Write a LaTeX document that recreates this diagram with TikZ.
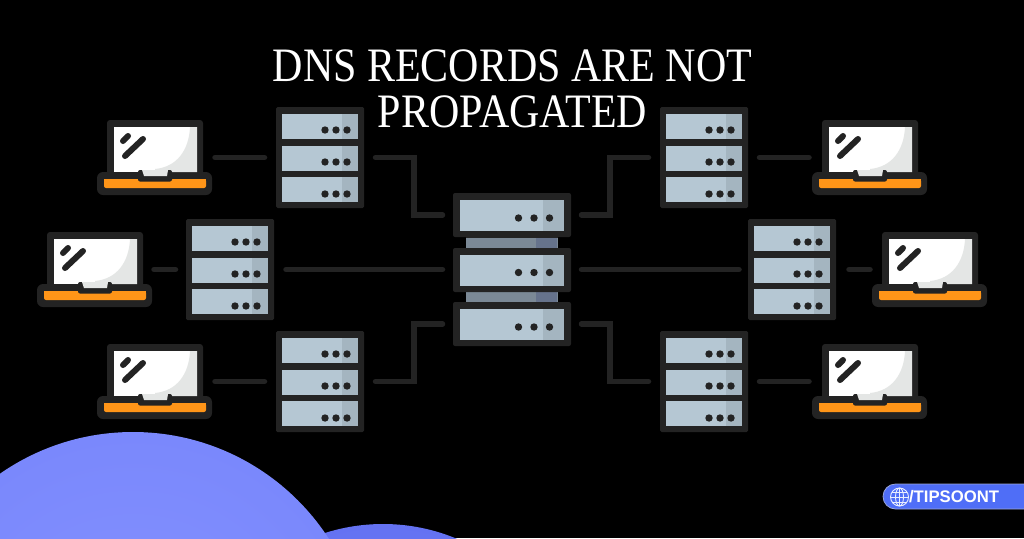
\documentclass[tikz,border=0pt]{standalone}
\usepackage{fontspec}
\setmainfont{Liberation Serif}
\newfontfamily\titlefont[FakeStretch=0.875]{Liberation Serif}
\newfontfamily\badgefont{Liberation Sans}
\definecolor{ink}{HTML}{232323}
\definecolor{panel}{HTML}{B5C7D3}
\definecolor{panelshade}{HTML}{A4B5C0}
\definecolor{barfill}{HTML}{7B8996}
\definecolor{barshade}{HTML}{66738C}
\definecolor{screengrey}{HTML}{E4E6E5}
\definecolor{orangebar}{HTML}{FF9518}
\definecolor{cloudin}{HTML}{8592FF}
\definecolor{cloudout}{HTML}{7A88FC}
\definecolor{cloudtwo}{HTML}{6472F2}
\definecolor{badgeblue}{HTML}{4F6EF7}
\definecolor{badgeedge}{HTML}{9AA6D8}
\tikzset{
  anchorbox/.style={inner sep=0pt,outer sep=0pt,draw=none,fill=none},
  wire/.style={draw=ink,line width=5.5pt,line cap=round,line join=miter},
  dot/.style={fill=ink,draw=none},
}
% one panel: x0,y0,x1,y1, shade start x
\newcommand{\srvpanel}[5]{%
  \fill[panel] (#1,#2) rectangle (#3,#4);
  \fill[panelshade] (#5,#2) rectangle (#3,#4);
}
\newcommand{\srvdots}[4]{%
  \fill[dot] (#1,#4) circle (3.7);
  \fill[dot] (#2,#4) circle (3.7);
  \fill[dot] (#3,#4) circle (3.7);
}
% server rack: name, left x, top y (88 x 101)
\newcommand{\rackserver}[3]{%
  \begin{scope}[shift={(#2,#3)}]
    \fill[ink,rounded corners=1.5pt] (0,0) rectangle (88,101);
    \srvpanel{6}{7}{82}{32}{66}
    \srvpanel{6}{38.5}{82}{63.5}{66}
    \srvpanel{6}{70}{82}{95}{66}
    \srvdots{49}{60}{71}{23}
    \srvdots{49}{60}{71}{55}
    \srvdots{49}{60}{71}{87}
    \node[anchorbox,minimum width=88pt,minimum height=101pt] (#1) at (44,50.5) {};
  \end{scope}
}
% laptop: name, left x, top y (115 x 75)
\newcommand{\laptopbox}[3]{%
  \begin{scope}[shift={(#2,#3)}]
    \fill[ink,rounded corners=3pt] (10,0) rectangle (106,60);
    \fill[ink,rounded corners=6pt] (0,52) rectangle (115,75);
    \fill[white] (17,7) rectangle (100,52);
    \fill[screengrey] (93,7) .. controls (92,30) and (80,47) .. (58,49) -- (58,52) -- (100,52) -- (100,7) -- cycle;
    \fill[orangebar,rounded corners=2pt] (7,59) -- (109,59) -- (109,68) -- (7,68) -- cycle;
    \fill[orangebar] (7,59) rectangle (109,63);
    \fill[ink,rounded corners=2pt] (41,50) rectangle (75,61.5);
    \fill[screengrey] (45,50) -- (71,50) -- (70,56) -- (47,56) -- cycle;
    \draw[ink,line width=6pt,line cap=round] (26,21) -- (31,16);
    \draw[ink,line width=6pt,line cap=round] (28,36) -- (46,19);
    \node[anchorbox,minimum width=115pt,minimum height=75pt] (#1) at (57.5,37.5) {};
  \end{scope}
}
\begin{document}
\begin{tikzpicture}[x=1pt,y=-1pt]
\useasboundingbox (0,0) rectangle (1024,538);
\fill[black] (0,0) rectangle (1024,538);
% clouds
\begin{scope}
  \clip (0,0) rectangle (1024,538);
  \shade[inner color=cloudtwo!85!white,outer color=cloudtwo] (383,715) circle (191);
  \shade[inner color=cloudin,outer color=cloudout] (133,665) circle (233);
\end{scope}
% title
\node[anchorbox,text=white,align=center,font=\titlefont\fontsize{48}{46}\selectfont] (title) at (512.5,88.5) {DNS RECORDS ARE NOT\\PROPAGATED};
% racks and laptops
\rackserver{sa}{276}{107}
\rackserver{sb}{186}{219}
\rackserver{sc}{276}{331}
\rackserver{sd}{660}{107}
\rackserver{se}{748}{219}
\rackserver{sf}{660}{331}
\laptopbox{la}{97}{120}
\laptopbox{lb}{37}{232}
\laptopbox{lc}{97}{344}
\laptopbox{ld}{812}{120}
\laptopbox{le}{872}{232}
\laptopbox{lf}{812}{344}
% central server
\fill[ink] (466,230) rectangle (558,310);
\fill[barfill] (466,237.5) rectangle (558,247.5);
\fill[barshade] (536,237.5) rectangle (557,247.5);
\fill[barfill] (466,292) rectangle (558,302);
\fill[barshade] (536,292) rectangle (557,302);
\fill[ink,rounded corners=2pt] (453,193) rectangle (571,237);
\fill[ink,rounded corners=2pt] (453,248) rectangle (571,292);
\fill[ink,rounded corners=2pt] (453,302) rectangle (571,346);
\srvpanel{460}{200}{564}{231}{543}
\srvpanel{460}{254.5}{564}{285.5}{543}
\srvpanel{460}{309}{564}{340}{543}
\srvdots{518.5}{534}{549.5}{218}
\srvdots{518.5}{534}{549.5}{272.5}
\srvdots{518.5}{534}{549.5}{327}
\node[anchorbox,minimum width=118pt,minimum height=44pt] (huba) at (512,215) {};
\node[anchorbox,minimum width=118pt,minimum height=44pt] (hubb) at (512,269.5) {};
\node[anchorbox,minimum width=118pt,minimum height=44pt] (hubc) at (512,324) {};
% connectors
\draw[wire,shorten <=3pt,shorten >=11.5pt] (la.east) -- (sa.west);
\draw[wire,shorten <=2pt,shorten >=10.5pt] (lb.east) -- (sb.west);
\draw[wire,shorten <=3pt,shorten >=11.5pt] (lc.east) -- (sc.west);
\draw[wire,shorten <=11.5pt,shorten >=3pt] (sd.east) -- (ld.west);
\draw[wire,shorten <=13pt,shorten >=2pt] (se.east) -- (le.west);
\draw[wire,shorten <=11.5pt,shorten >=3pt] (sf.east) -- (lf.west);
\draw[wire,shorten <=11.5pt,shorten >=10.5pt] (sa.east) -- ++(50,0) |- (huba.west);
\draw[wire,shorten <=11.5pt,shorten >=10.5pt] (sc.east) -- ++(50,0) |- (hubc.west);
\draw[wire,shorten <=12pt,shorten >=10.5pt] (sb.east) -- (hubb.west);
\draw[wire,shorten <=10.5pt,shorten >=11.5pt] (huba.east) -- ++(39,0) |- (sd.west);
\draw[wire,shorten <=10.5pt,shorten >=11.5pt] (hubc.east) -- ++(39,0) |- (sf.west);
\draw[wire,shorten <=10.5pt,shorten >=9pt] (hubb.east) -- (se.west);
% badge
\fill[badgeblue,draw=badgeedge,line width=0.8pt,rounded corners=12.5pt] (883,484) rectangle (1050,509);
\begin{scope}[draw=white!88!badgeblue,line width=0.9pt]
  \draw (899.5,497) circle (9);
  \draw (899.5,497) ellipse (4 and 9);
  \draw (890.5,497) -- (908.5,497);
  \draw (892,492) -- (907,492);
  \draw (892,502) -- (907,502);
  \draw (899.5,488) -- (899.5,506);
\end{scope}
\node[anchorbox,anchor=west,text=white,font=\badgefont\bfseries\fontsize{16.7}{18}\selectfont] (badge) at (909,497) {/TIPSOONT};
\end{tikzpicture}
\end{document}
